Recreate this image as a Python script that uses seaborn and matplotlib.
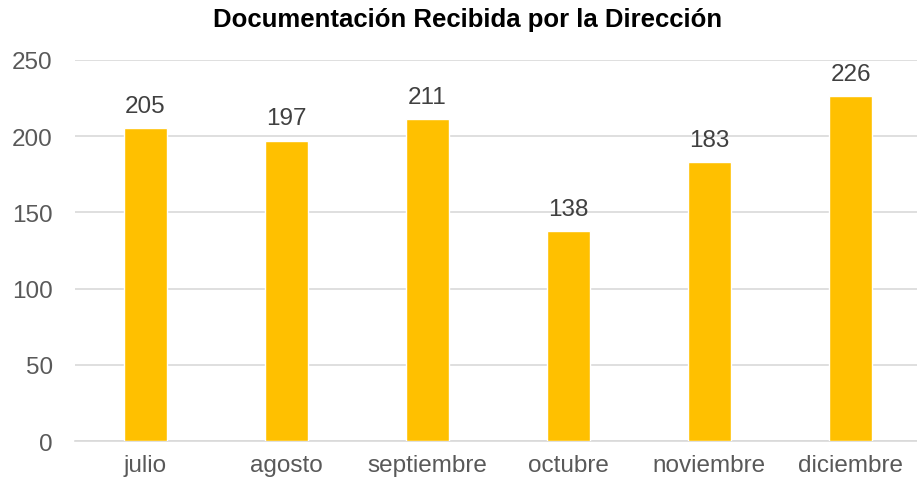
import pandas as pd
import seaborn as sns
from matplotlib import pyplot as plt

meses = ['julio', 'agosto', 'septiembre', 'octubre', 'noviembre', 'diciembre']
documentos = [205, 197, 211, 138, 183, 226]
titulo = 'Documentación Recibida por la Dirección'

sns.set_style('white')
plt.rcParams['font.family'] = ['Liberation Sans', 'DejaVu Sans']

df = pd.DataFrame({'mes': meses, 'documentos': documentos})

fig = plt.figure(figsize=(9.17, 4.89), dpi=100)
ax = fig.add_axes([75 / 917, (489 - 442.3) / 489, 846 / 917, (442.3 - 60.7) / 489])

sns.barplot(data=df, x='mes', y='documentos', color='#FFC000', saturation=1,
            width=0.31, ax=ax, zorder=3)

ax.set_ylim(0, 250)
ax.set_yticks(range(0, 251, 50))
ax.yaxis.grid(True, color='#D9D9D9', linewidth=1.2, zorder=0)
ax.set_xlabel('')
ax.set_ylabel('')
for s in ['top', 'right', 'left']:
    ax.spines[s].set_visible(False)
ax.spines['bottom'].set_color('#D9D9D9')
ax.spines['bottom'].set_linewidth(1.2)
ax.tick_params(axis='both', length=0, labelsize=17.5, labelcolor='#595959')
ax.tick_params(axis='x', pad=9)
ax.tick_params(axis='y', pad=16)

for i, v in enumerate(documentos):
    ax.annotate(str(v), (i, v), xytext=(0, 8), textcoords='offset points',
                ha='center', va='bottom', fontsize=17.5, color='#404040')

fig.text(468 / 917, 1 - 20 / 489, titulo, ha='center', va='center',
         fontsize=18.5, fontweight='bold', color='black')

fig.savefig('out.png', dpi=100)
